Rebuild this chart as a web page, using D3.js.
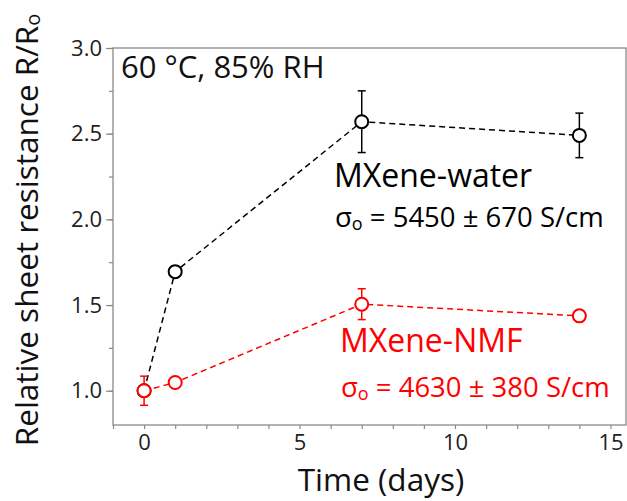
<!DOCTYPE html>
<html><head><meta charset="utf-8">
<script src="https://cdn.jsdelivr.net/npm/d3@7"></script>
<style>body{margin:0;background:#fff}svg{display:block}text{font-family:"Open Sans",sans-serif}</style>
</head><body><svg id="c" width="627" height="501"></svg>
<script>
const days = [0, 1, 7, 14];
const waterValues = [1.0, 1.695, 2.57, 2.49];
const waterErrors = [0.03, 0.03, 0.18, 0.13];
const nmfValues = [1.0, 1.048, 1.505, 1.437];
const nmfErrors = [0.085, 0.02, 0.09, 0.02];
const xTicks = [0, 5, 10, 15];
const yTicks = [1.0, 1.5, 2.0, 2.5, 3.0];
const series = [
  {name: "MXene-water", sigma: "5450 ± 670 S/cm", color: "#000000", values: waterValues, errors: waterErrors},
  {name: "MXene-NMF", sigma: "4630 ± 380 S/cm", color: "#ff0000", values: nmfValues, errors: nmfErrors}
];

const svg = d3.select("#c");
const L = 113, R = 626, T = 48, B = 425;
const x = d3.scaleLinear().domain([-1, 15.5]).range([L, R]);
const y = d3.scaleLinear().domain([0.8, 3.0]).range([B, T]);
const axisColor = "#8a8a8a";

// frame
svg.append("rect").attr("x", L).attr("y", T).attr("width", R - L).attr("height", B - T)
  .attr("fill", "none").attr("stroke", axisColor).attr("stroke-width", 1.3);

// x axis
const xMinor = d3.range(-1, 16, 1);
const gx = svg.append("g").attr("transform", `translate(0,${B})`);
gx.call(d3.axisBottom(x).tickValues(xMinor).tickSize(4).tickFormat(""))
  .call(g => g.select(".domain").remove())
  .call(g => g.selectAll("line").attr("stroke", axisColor).attr("stroke-width", 1.2));
const gx2 = svg.append("g").attr("transform", `translate(0,${B})`);
gx2.call(d3.axisBottom(x).tickValues(xTicks).tickSize(0).tickPadding(9).tickFormat(d3.format("d")))
  .call(g => g.select(".domain").remove())
  .call(g => g.selectAll("text").attr("font-size", 22).attr("fill", "#222").attr("font-family", "Open Sans"));

// y axis
const yMinor = d3.range(0.75, 3.01, 0.25).filter(v => v >= 0.8);
const gy = svg.append("g").attr("transform", `translate(${L},0)`);
gy.call(d3.axisLeft(y).tickValues(yMinor).tickSize(4).tickFormat(""))
  .call(g => g.select(".domain").remove())
  .call(g => g.selectAll("line").attr("stroke", axisColor).attr("stroke-width", 1.2));
const gy2 = svg.append("g").attr("transform", `translate(${L},0)`);
gy2.call(d3.axisLeft(y).tickValues(yTicks).tickSize(7).tickPadding(4).tickFormat(d3.format(".1f")))
  .call(g => g.select(".domain").remove())
  .call(g => g.selectAll("line").attr("stroke", axisColor).attr("stroke-width", 1.2))
  .call(g => g.selectAll("text").attr("font-size", 22).attr("fill", "#222").attr("font-family", "Open Sans"));

// axis titles
svg.append("text").attr("x", 381).attr("y", 490.5).attr("text-anchor", "middle")
  .attr("font-size", 31.5).attr("fill", "#111").text("Time (days)");
const yt = svg.append("text").attr("transform", "translate(38,230) rotate(-90)")
  .attr("text-anchor", "middle").attr("font-size", 31.5).attr("fill", "#111");
yt.append("tspan").text("Relative sheet resistance R/R");
yt.append("tspan").attr("font-size", 20).attr("dy", 2).text("o");

// condition label
svg.append("text").attr("x", 121).attr("y", 78).attr("font-size", 31).attr("fill", "#111").text("60 °C, 85% RH");

// series
const line = d3.line().x(d => x(d.d)).y(d => y(d.v));
series.forEach(s => {
  const pts = days.map((d, i) => ({d, v: s.values[i], e: s.errors[i]}));
  const g = svg.append("g");
  g.append("path").datum(pts).attr("d", line).attr("fill", "none").attr("stroke", s.color)
    .attr("stroke-width", 1.5).attr("stroke-dasharray", "6,4");
  const eb = g.selectAll(".eb").data(pts).join("g");
  eb.append("line").attr("x1", d => x(d.d)).attr("x2", d => x(d.d))
    .attr("y1", d => y(d.v - d.e)).attr("y2", d => y(d.v + d.e)).attr("stroke", s.color).attr("stroke-width", 1.5);
  [1, -1].forEach(sg => eb.append("line").attr("x1", d => x(d.d) - 4).attr("x2", d => x(d.d) + 4)
    .attr("y1", d => y(d.v + sg * d.e)).attr("y2", d => y(d.v + sg * d.e)).attr("stroke", s.color).attr("stroke-width", 1.5));
  g.selectAll("circle").data(pts).join("circle").attr("cx", d => x(d.d)).attr("cy", d => y(d.v))
    .attr("r", 6.5).attr("fill", "#fff").attr("stroke", s.color).attr("stroke-width", 2);
});

// annotations
function sigmaText(xp, yp, s) {
  const t = svg.append("text").attr("x", xp).attr("y", yp).attr("font-size", 27.5).attr("fill", s.color);
  t.append("tspan").text("σ");
  t.append("tspan").attr("font-size", 18).attr("dy", 3).text("o");
  t.append("tspan").attr("dy", -3).text(" = " + s.sigma);
}
svg.append("text").attr("x", 334).attr("y", 187).attr("font-size", 32).attr("fill", series[0].color).text(series[0].name);
sigmaText(335, 227, series[0]);
svg.append("text").attr("x", 340).attr("y", 352).attr("font-size", 32).attr("fill", series[1].color).text(series[1].name);
sigmaText(341, 397, series[1]);
</script></body></html>
